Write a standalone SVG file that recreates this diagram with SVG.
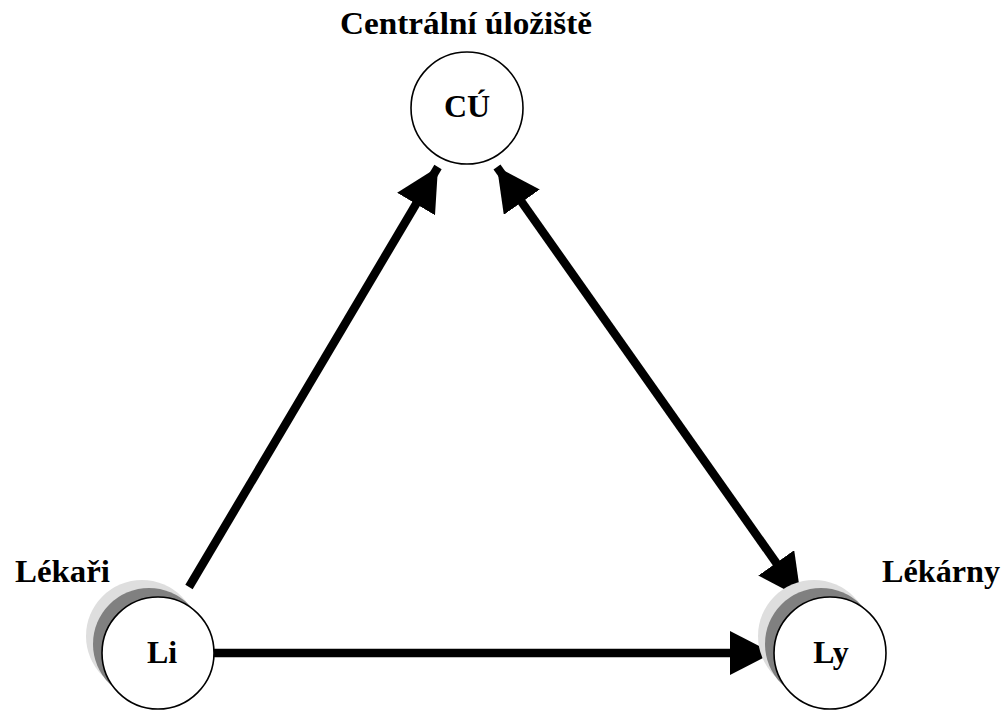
<svg xmlns="http://www.w3.org/2000/svg" width="1006" height="714" viewBox="0 0 1006 714">
<style>
.lbl{font-family:"Liberation Serif","Times New Roman",serif;font-weight:bold;font-size:32px;fill:#000}
.node{fill:#fff;stroke:#000;stroke-width:1.6}
.sh1{fill:#dedede}
.sh2{fill:#808080}
.conn{stroke:#000;stroke-width:8.5;fill:none}
</style>
<defs>
<marker id="ah" viewBox="0 0 43 44" refX="43" refY="22" markerWidth="43" markerHeight="44" markerUnits="userSpaceOnUse" orient="auto-start-reverse">
<path d="M0,0 L43,22 L0,44 Z" fill="#000"/>
</marker>
</defs>
<rect width="1006" height="714" fill="#fff"/>
<g id="connectors">
<line class="conn" x1="189" y1="587" x2="438" y2="167" marker-end="url(#ah)"/>
<line class="conn" x1="497" y1="167" x2="801" y2="598" marker-start="url(#ah)" marker-end="url(#ah)"/>
<line class="conn" x1="213" y1="653" x2="773" y2="653" marker-end="url(#ah)"/>
</g>
<g id="node-cu">
<text class="lbl" x="466" y="34" text-anchor="middle" textLength="252" lengthAdjust="spacingAndGlyphs">Centrální úložiště</text>
<circle class="node" cx="467" cy="108" r="56"/>
<text class="lbl" x="467" y="117" text-anchor="middle">CÚ</text>
</g>
<g id="node-li">
<text class="lbl" x="15" y="582" textLength="95" lengthAdjust="spacingAndGlyphs">Lékaři</text>
<circle class="sh1" cx="142" cy="636" r="56"/>
<circle class="sh2" cx="149" cy="644" r="56"/>
<circle class="node" cx="158" cy="653" r="56"/>
<text class="lbl" x="162" y="663" text-anchor="middle">Li</text>
</g>
<g id="node-ly">
<text class="lbl" x="882" y="582" textLength="118" lengthAdjust="spacingAndGlyphs">Lékárny</text>
<circle class="sh1" cx="814" cy="636" r="56"/>
<circle class="sh2" cx="821" cy="644" r="56"/>
<circle class="node" cx="830" cy="653" r="56"/>
<text class="lbl" x="831" y="663" text-anchor="middle">Ly</text>
</g>
</svg>
